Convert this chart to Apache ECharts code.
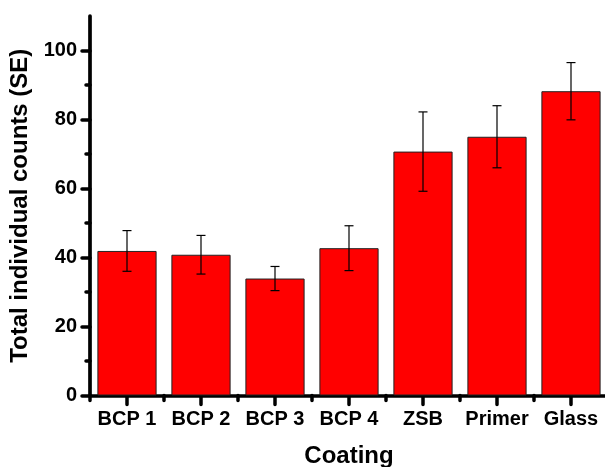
<!DOCTYPE html>
<html>
<head>
<meta charset="utf-8">
<script src="https://cdn.jsdelivr.net/npm/echarts@6/dist/echarts.min.js"></script>
<style>html,body{margin:0;padding:0;background:#fff}#c{width:605px;height:467px}</style>
</head>
<body>
<div id="c"></div>
<script>
const categories = ['BCP 1', 'BCP 2', 'BCP 3', 'BCP 4', 'ZSB', 'Primer', 'Glass'];
const means = [41.9, 40.8, 33.9, 42.7, 70.7, 75.0, 88.2];
const stdErr = [5.9, 5.6, 3.5, 6.5, 11.5, 9.0, 8.3];
const yMajorTicks = [0, 20, 40, 60, 80, 100];
const yMinorTicks = [10, 30, 50, 70, 90];
const yMax = 110;

const FONT = '"Liberation Sans", Arial, sans-serif';
const chart = echarts.init(document.getElementById('c'), null, {renderer: 'canvas'});

const errData = categories.map((c, i) => [i, means[i] - stdErr[i], means[i] + stdErr[i]]);
const tickStyle = {color: '#000', width: 3.5, cap: 'round'};

chart.setOption({
  animation: false,
  backgroundColor: '#fff',
  grid: {left: 90, top: 16, width: 518, bottom: 71.5, containLabel: false, outerBoundsMode: 'none'},
  xAxis: [
    {
      type: 'category', data: categories, boundaryGap: true,
      name: 'Coating', nameLocation: 'middle', nameGap: 49,
      nameTextStyle: {fontFamily: FONT, fontWeight: 'bold', fontSize: 24, color: '#000'},
      axisLine: {show: true, lineStyle: {color: '#000', width: 3.7, cap: 'round'}},
      axisTick: {show: true, alignWithLabel: true, length: 9, inside: false, lineStyle: tickStyle},
      axisLabel: {show: true, interval: 0, margin: 14, fontFamily: FONT, fontWeight: 'bold', fontSize: 20, color: '#000'},
      splitLine: {show: false}
    },
    {
      type: 'category', data: categories, boundaryGap: true, position: 'bottom',
      axisLine: {show: false},
      axisTick: {show: true, alignWithLabel: false, interval: 0, length: 5, lineStyle: tickStyle},
      axisLabel: {show: false},
      splitLine: {show: false}
    }
  ],
  yAxis: [
    {
      type: 'value', min: 0, max: yMax,
      name: 'Total individual counts (SE)', nameLocation: 'middle', nameGap: 52,
      nameTextStyle: {fontFamily: FONT, fontWeight: 'bold', fontSize: 24, color: '#000'},
      axisLine: {show: true, lineStyle: {color: '#000', width: 3.7, cap: 'round'}},
      axisTick: {show: true, customValues: yMajorTicks, length: 8, lineStyle: tickStyle},
      axisLabel: {show: true, customValues: yMajorTicks, margin: 13, fontFamily: FONT, fontWeight: 'bold', fontSize: 20, color: '#000'},
      splitLine: {show: false}
    },
    {
      type: 'value', min: 0, max: yMax, position: 'left',
      axisLine: {show: false},
      axisTick: {show: true, customValues: yMinorTicks, length: 4, lineStyle: tickStyle},
      axisLabel: {show: false},
      splitLine: {show: false}
    }
  ],
  series: [
    {
      type: 'bar', data: means, xAxisIndex: 0, yAxisIndex: 0,
      barWidth: '80%',
      itemStyle: {color: '#ff0000', borderColor: '#222', borderWidth: 1},
      z: 2
    },
    {
      type: 'custom', xAxisIndex: 0, yAxisIndex: 0, data: errData, z: 5,
      renderItem: function (params, api) {
        const x = api.value(0);
        const lo = api.coord([x, api.value(1)]);
        const hi = api.coord([x, api.value(2)]);
        const hw = 4.5;
        const st = {stroke: '#000', lineWidth: 1.2};
        return {
          type: 'group',
          children: [
            {type: 'line', shape: {x1: hi[0], y1: hi[1], x2: lo[0], y2: lo[1]}, style: st},
            {type: 'line', shape: {x1: hi[0] - hw, y1: hi[1], x2: hi[0] + hw, y2: hi[1]}, style: st},
            {type: 'line', shape: {x1: lo[0] - hw, y1: lo[1], x2: lo[0] + hw, y2: lo[1]}, style: st}
          ]
        };
      }
    }
  ]
});
</script>
</body>
</html>
